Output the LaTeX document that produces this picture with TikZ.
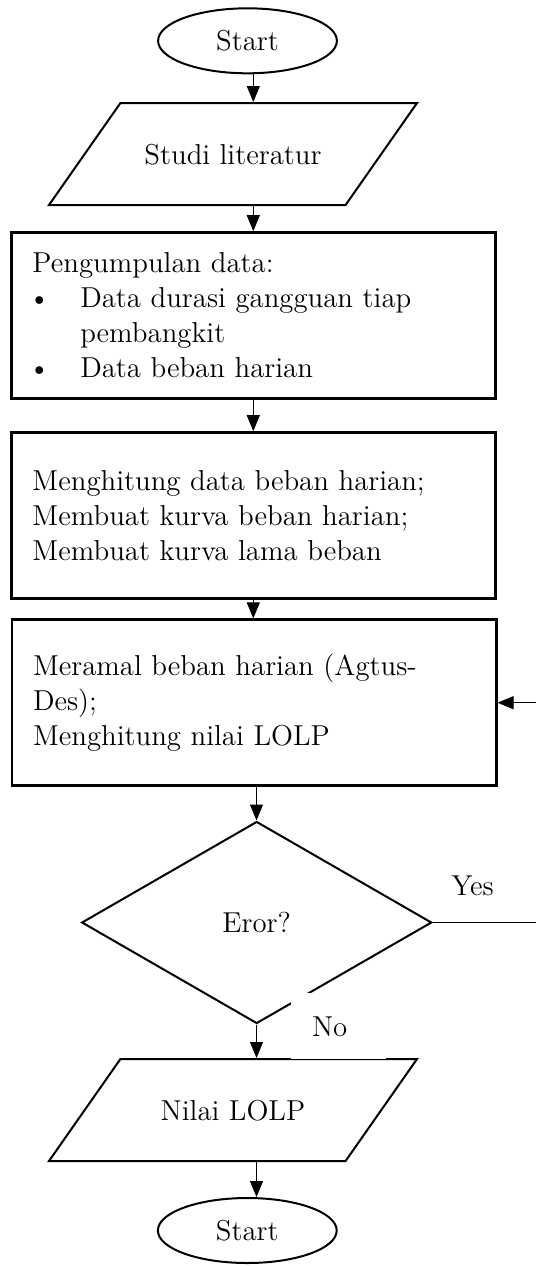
\documentclass[tikz,border=0pt]{standalone}
\usetikzlibrary{positioning, shapes.geometric, arrows.meta}
\newcommand{\chartfont}{\fontsize{14.4}{17.5}\selectfont}
\tikzset{
	base/.style={draw, line width=1pt, font=\chartfont},
	terminal/.style={base, ellipse, minimum width=89.4pt, minimum height=32.5pt, inner sep=0pt},
	inout/.style={base, trapezium, trapezium left angle=55, trapezium right angle=125, trapezium stretches body, minimum width=184pt, text height=10pt, text depth=0pt, inner xsep=0pt, inner ysep=20.5pt},
	process/.style={base, line width=1.3pt, rectangle, minimum width=242.2pt, minimum height=83pt, text width=221pt, align=left, inner xsep=10.5pt, inner ysep=0pt},
	decision/.style={base, diamond, minimum width=175pt, minimum height=101pt, inner sep=0pt},
	conn/.style={line width=0.5pt},
	arr/.style={conn, -{Triangle[width=6.5pt,length=8pt]}},
	lbl/.style={font=\chartfont, inner sep=0pt},
}
\begin{document}
\begin{tikzpicture}[x=0.5pt, y=-0.5pt]
		\path[use as bounding box, clip] (0,0) rectangle (536,1266);
		\coordinate (colA) at (253.3,0);
		\coordinate (colB) at (256.5,0);
		\coordinate (loop) at (570,922.5);

		\node (start1) [terminal] at (247.5,40.8) {Start};
		\node (studi) [inout] at (233,154) {Studi literatur};
		\node (kumpul) [process] at (253.5,315.5) {Pengumpulan data:\\
			\makebox[23.9pt][l]{\hspace*{-2pt}\textbullet}Data durasi gangguan tiap\\
			\hspace*{23.9pt}pembangkit\\
			\makebox[23.9pt][l]{\hspace*{-2pt}\textbullet}Data beban harian};
		\node (hitung) [process] at (253.5,515.5) {Menghitung data beban harian;\\ Membuat kurva beban harian;\\ Membuat kurva lama beban};
		\node (ramal) [process] at (254,702.7) {Meramal beban harian (Agtus-\\ Des);\\ Menghitung nilai LOLP};
		\node (eror) [decision] at (256.7,922.5) {Eror?};
		\node (nilai) [inout] at (233,1110) {Nilai LOLP};
		\node (start2) [terminal] at (247.3,1230.5) {Start};

		\draw[arr] (start1.south -| colA) -- (studi.north -| colA);
		\draw[arr] (studi.south -| colA) -- (kumpul.north -| colA);
		\draw[arr] (kumpul.south -| colA) -- (hitung.north -| colA);
		\draw[arr] (hitung.south -| colA) -- (ramal.north -| colA);
		\draw[arr] (ramal.south -| colB) -- (eror.north -| colB);
		\draw[arr] (eror.south -| colB) -- (nilai.north -| colB);
		\draw[arr] (nilai.south -| colB) -- (start2.north -| colB);
		\draw[arr] (eror.east) -- (loop) |- (ramal.east);

		\node (yes) [lbl] at (472.5,886) {Yes};
		\node (no) [lbl, fill=white, anchor=north west, minimum width=47.5pt, minimum height=33pt, inner xsep=10.5pt, text width=26.5pt, align=left] at (290.7,993) {No};
	\end{tikzpicture}
\end{document}
